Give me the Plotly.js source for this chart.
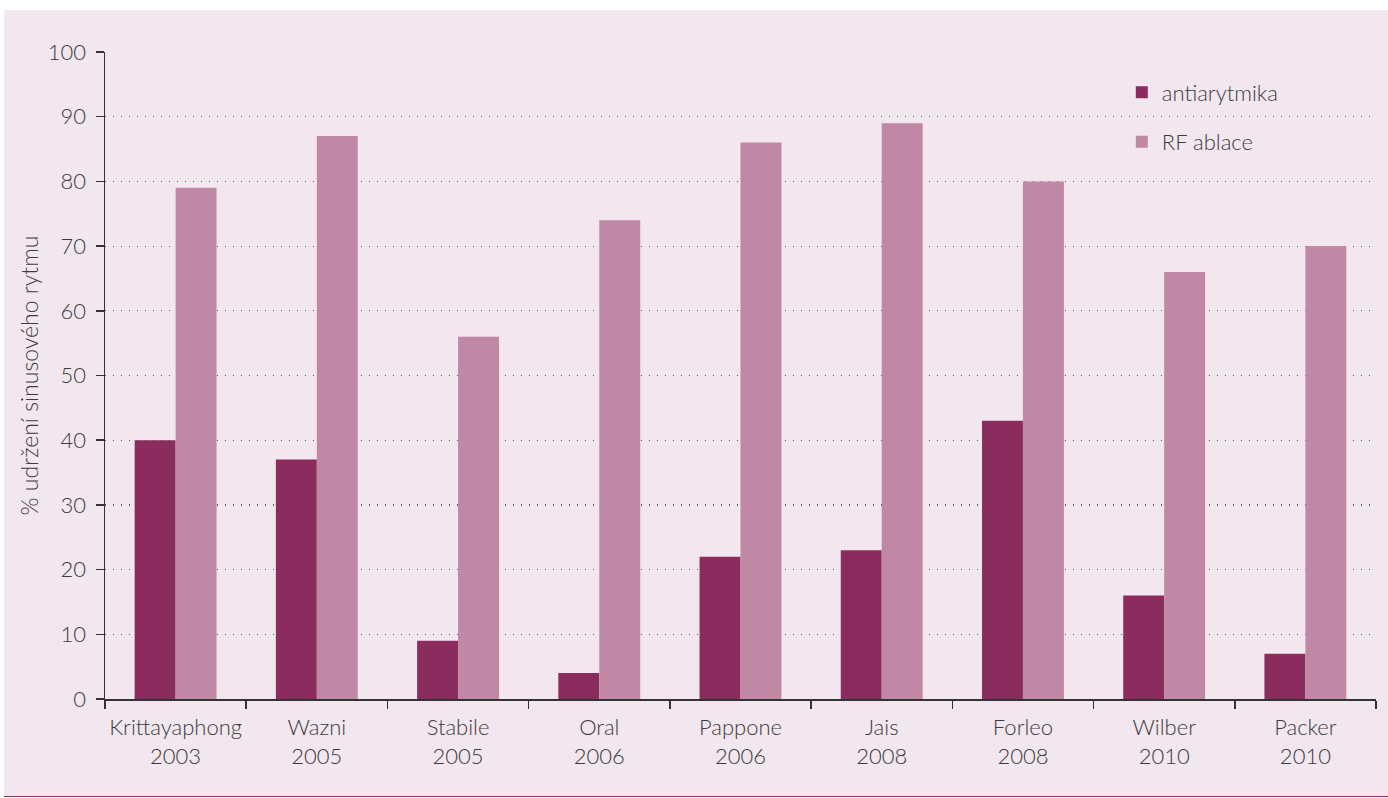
<!DOCTYPE html>
<html>
<head>
<meta charset="utf-8">
<script src="https://cdn.plot.ly/plotly-3.0.1.min.js"></script>
<style>
  html, body { margin: 0; padding: 0; background: #ffffff; }
  #panel {
    position: absolute; left: 4px; top: 10px; width: 1384px; height: 786px;
    background: #f2e7ee; border-bottom: 1.5px solid #8b2c5e;
  }
  #chart { width: 1384px; height: 786px; }
</style>
</head>
<body>
<div id="panel"><div id="chart"></div></div>
<script>
// Data
const studies = ["Krittayaphong", "Wazni", "Stabile", "Oral", "Pappone", "Jais", "Forleo", "Wilber", "Packer"];
const years = ["2003", "2005", "2005", "2006", "2006", "2008", "2008", "2010", "2010"];
const antiarytmika = [40, 37, 9, 4, 22, 23, 43, 16, 7];
const rfAblace = [79, 87, 56, 74, 86, 89, 80, 66, 70];
const yTicks = [0, 10, 20, 30, 40, 50, 60, 70, 80, 90, 100];

const categories = studies.map((s, i) => s + "<br>" + years[i]);
const fontFamily = "Lato, 'Open Sans', sans-serif";
const textColor = "#3d3a3c";

const traces = [
  {
    type: "bar", name: "antiarytmika", x: categories, y: antiarytmika,
    marker: { color: "#8b2c5e" }, legendgroup: "a"
  },
  {
    type: "bar", name: "RF ablace", x: categories, y: rfAblace,
    marker: { color: "#c088a5" }, legendgroup: "b"
  }
];

const layout = {
  width: 1384, height: 786,
  margin: { l: 101, r: 12, t: 42, b: 97 },
  paper_bgcolor: "rgba(0,0,0,0)",
  plot_bgcolor: "rgba(0,0,0,0)",
  barmode: "group",
  bargap: 0.42,
  bargroupgap: 0,
  font: { family: fontFamily, color: textColor, size: 21, weight: 300 },
  showlegend: true,
  legend: {
    x: 0.8, y: 0.97, xanchor: "left", yanchor: "top",
    bgcolor: "rgba(0,0,0,0)",
    font: { size: 22, color: textColor, weight: 300 },
    traceorder: "grouped", tracegroupgap: 18,
    itemwidth: 30
  },
  xaxis: {
    type: "category",
    showline: true, linecolor: "#333333", linewidth: 1.5,
    ticks: "outside", ticklen: 8, tickcolor: "#333333", tickwidth: 1.5,
    tickson: "boundaries",
    tickangle: 0,
    showgrid: false, zeroline: false,
    tickfont: { size: 22, color: textColor, weight: 300 },
    ticklabelstandoff: 8
  },
  yaxis: {
    range: [0, 100],
    tickvals: yTicks,
    showline: true, linecolor: "#333333", linewidth: 1.5,
    ticks: "outside", ticklen: 8, tickcolor: "#333333", tickwidth: 1.5,
    showgrid: true, gridcolor: "#555555", gridwidth: 1.2, griddash: "1px,7px",
    zeroline: false,
    tickfont: { size: 22, color: textColor, weight: 300 },
    ticklabelstandoff: 5,
    title: { text: "% udržení sinusového rytmu", font: { size: 23, color: textColor, weight: 300 }, standoff: 3 }
  }
};

Plotly.newPlot("chart", traces, layout, { displayModeBar: false, staticPlot: true });
</script>
</body>
</html>
